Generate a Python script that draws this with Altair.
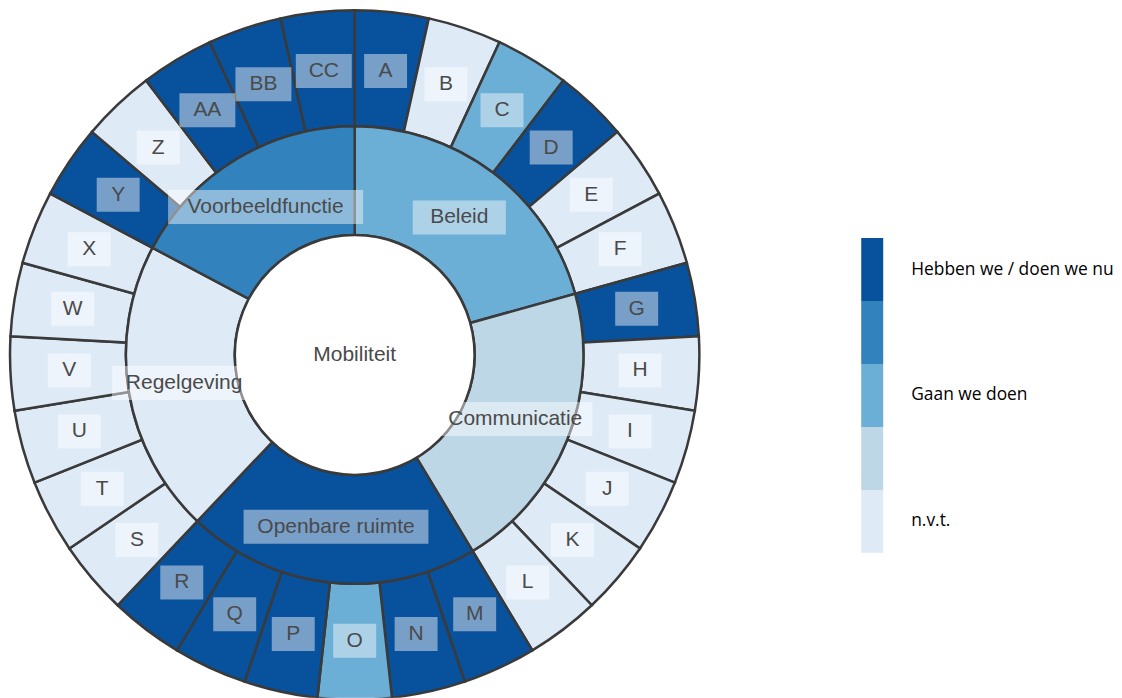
import math
import altair as alt
import pandas as pd

# ---------------- data ----------------
root_label = "Mobiliteit"
categories = ["Beleid", "Communicatie", "Openbare ruimte", "Regelgeving", "Voorbeeldfunctie"]
category_sizes = [6, 6, 6, 6, 5]
category_status = [3, 4, 1, 5, 2]
items = ["A", "B", "C", "D", "E", "F", "G", "H", "I", "J", "K", "L", "M", "N", "O",
         "P", "Q", "R", "S", "T", "U", "V", "W", "X", "Y", "Z", "AA", "BB", "CC"]
item_status = [1, 5, 3, 1, 5, 5, 1, 5, 5, 5, 5, 5, 1, 1, 3,
               1, 1, 1, 5, 5, 5, 5, 5, 5, 1, 5, 1, 1, 1]
status_levels = [1, 2, 3, 4, 5]
status_labels = ["Hebben we / doen we nu", "", "Gaan we doen", "", "n.v.t."]
status_colors = ["#08519c", "#3182bd", "#6baed6", "#bdd7e7", "#deebf7"]

n = len(items)
rows = [dict(ring=0, label=root_label, t0=0, t1=n, status=0)]
start = 0
for c, s, st in zip(categories, category_sizes, category_status):
    rows.append(dict(ring=1, label=c, t0=start, t1=start + s, status=st))
    start += s
for i, (it, st) in enumerate(zip(items, item_status)):
    rows.append(dict(ring=2, label=it, t0=i, t1=i + 1, status=st))
df = pd.DataFrame(rows)
legend_df = pd.DataFrame({"status": status_levels, "label": status_labels})

# ---------------- layout constants ----------------
W, H = 694, 690
CX, CY = 347, 347
R0, R1, R2 = 120, 229, 345
STROKE = "#3a3a3a"

color_scale = alt.Scale(domain=[0] + status_levels, range=["#ffffff"] + status_colors)
theta_scale = alt.Scale(domain=[0, n], range=[0, 2 * math.pi])

base = alt.Chart(df)


def ring_layer(ring, outer, inner):
    return base.transform_filter(f"datum.ring == {ring}").mark_arc(
        radius=outer, radius2=inner, stroke=STROKE, strokeWidth=2.5, clip=True
    ).encode(
        theta=alt.Theta("t0:Q", scale=theta_scale, stack=None),
        theta2="t1:Q",
        x=alt.value(CX),
        y=alt.value(CY),
        color=alt.Color("status:O", scale=color_scale, legend=None),
    )


outer = ring_layer(2, R2, R1)
middle = ring_layer(1, R1, R0)
center = ring_layer(0, R0, 0)

lab = base.transform_calculate(
    mid=f"(datum.t0 + datum.t1) / 2 * 2 * PI / {n}",
    lr="datum.ring == 2 ? 286 : (datum.ring == 1 ? 173 : 0)",
).transform_calculate(
    lx="datum.lr * sin(datum.mid)",
    ly="datum.lr * cos(datum.mid)",
    bw="datum.ring == 2 ? 30 + 13 * length(datum.label) : 32 + 10.2 * length(datum.label)",
).transform_calculate(
    bx0="datum.lx - datum.bw / 2",
    bx1="datum.lx + datum.bw / 2",
    by0="datum.ly - 17",
    by1="datum.ly + 17",
)

xs = alt.Scale(domain=[-CX, W - CX], nice=False, zero=False)
ys = alt.Scale(domain=[-(H - CY), CY], nice=False, zero=False)

boxes = lab.transform_filter("datum.ring > 0").mark_rect(
    color="#ffffff", opacity=0.45
).encode(
    x=alt.X("bx0:Q", scale=xs, axis=None),
    x2="bx1:Q",
    y=alt.Y("by0:Q", scale=ys, axis=None),
    y2="by1:Q",
)

texts = lab.mark_text(
    font="Liberation Sans", fontSize=21, color="#4a4a4a", align="center", baseline="middle"
).encode(
    x=alt.X("lx:Q", scale=xs, axis=None),
    y=alt.Y("ly:Q", scale=ys, axis=None),
    text="label:N",
)

sun = alt.layer(outer, middle, center, boxes, texts).properties(width=W, height=H)

leg_base = alt.Chart(legend_df)
leg_y = alt.Y("status:O", scale=alt.Scale(range=[230, 545], paddingInner=0, paddingOuter=0), axis=None)
leg_rect = leg_base.mark_rect().encode(
    y=leg_y,
    x=alt.value(0),
    x2=alt.value(22),
    color=alt.Color("status:O", scale=color_scale, legend=None),
)
leg_text = leg_base.mark_text(
    font="Open Sans", fontSize=17.4, color="#000000", align="left", baseline="middle"
).encode(
    y=leg_y,
    x=alt.value(50),
    text="label:N",
)
leg = alt.layer(leg_rect, leg_text).properties(width=240, height=H)

chart = alt.hconcat(sun, leg, spacing=160).properties(
    padding=0, background="#ffffff"
).configure_view(stroke=None)

chart.save("out.html", embed_options={"renderer": "svg", "actions": False})
